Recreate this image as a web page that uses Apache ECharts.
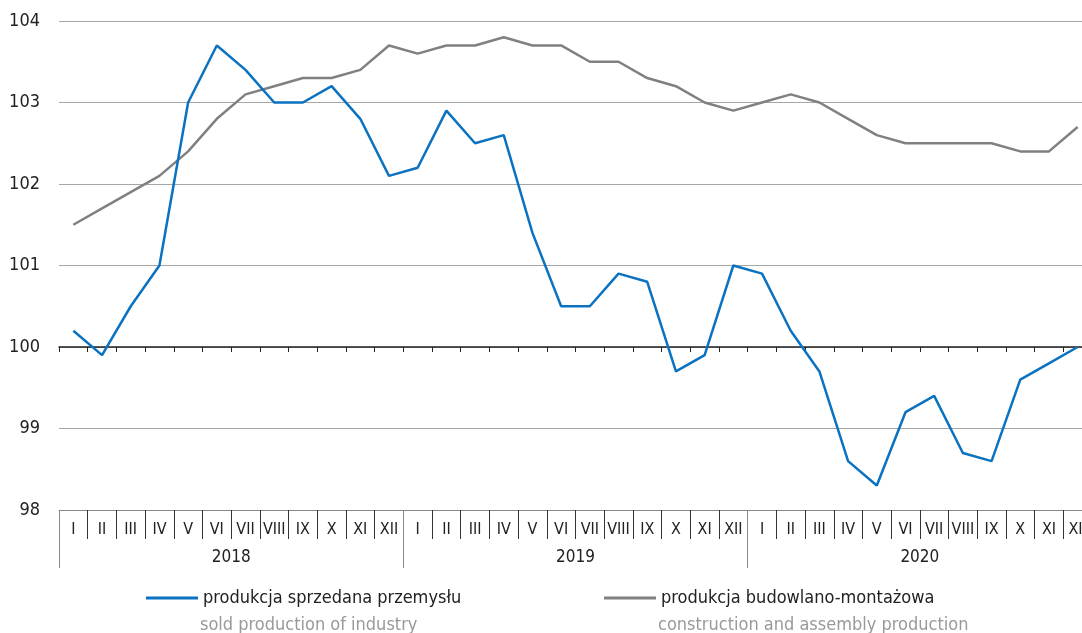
<!DOCTYPE html>
<html>
<head>
<meta charset="utf-8">
<script src="https://cdn.jsdelivr.net/npm/echarts@6/dist/echarts.min.js"></script>
<style>
  html, body { margin: 0; padding: 0; background: #fff; }
  #chart { width: 1082px; height: 633px; }
</style>
</head>
<body>
<div id="chart"></div>
<script>
var months = ['I', 'II', 'III', 'IV', 'V', 'VI', 'VII', 'VIII', 'IX', 'X', 'XI', 'XII'];
var years = ['2018', '2019', '2020'];
var categories = [].concat(months, months, months);

// produkcja sprzedana przemysłu
var industry = [
  100.2, 99.9, 100.5, 101.0, 103.0, 103.7, 103.4, 103.0, 103.0, 103.2, 102.8, 102.1,
  102.2, 102.9, 102.5, 102.6, 101.4, 100.5, 100.5, 100.9, 100.8, 99.7, 99.9, 101.0,
  100.9, 100.2, 99.7, 98.6, 98.3, 99.2, 99.4, 98.7, 98.6, 99.6, 99.8, 100.0
];
// produkcja budowlano-montażowa
var construction = [
  101.5, 101.7, 101.9, 102.1, 102.4, 102.8, 103.1, 103.2, 103.3, 103.3, 103.4, 103.7,
  103.6, 103.7, 103.7, 103.8, 103.7, 103.7, 103.5, 103.5, 103.3, 103.2, 103.0, 102.9,
  103.0, 103.1, 103.0, 102.8, 102.6, 102.5, 102.5, 102.5, 102.5, 102.4, 102.4, 102.7
];
var seriesNames = ['produkcja sprzedana przemysłu', 'produkcja budowlano-montażowa'];
var seriesSubs = ['sold production of industry', 'construction and assembly production'];

var font = '"Liberation Sans Narrow", "DejaVu Sans Condensed", "Noto Sans", sans-serif';

var chart = echarts.init(document.getElementById('chart'));
chart.setOption({
  animation: false,
  textStyle: { fontFamily: font },
  // the last month (XII 2020) runs past the right edge, as in the source
  grid: { left: 59, top: 21, width: 1033, bottom: 123, outerBoundsMode: 'none', containLabel: false },
  legend: [
    {
      data: [seriesNames[0]], left: 141, top: 584,
      icon: 'rect', itemWidth: 52, itemHeight: 3,
      textStyle: { fontSize: 18, color: '#222', fontFamily: font }
    },
    {
      data: [seriesNames[1]], left: 599, top: 584,
      icon: 'rect', itemWidth: 52, itemHeight: 3,
      textStyle: { fontSize: 18, color: '#222', fontFamily: font }
    }
  ],
  graphic: [
    { type: 'text', left: 200, top: 616, style: { text: seriesSubs[0], fill: '#999', fontSize: 18, fontFamily: font } },
    { type: 'text', left: 658, top: 616, style: { text: seriesSubs[1], fill: '#999', fontSize: 18, fontFamily: font } }
  ],
  xAxis: [
    {
      type: 'category', data: categories, boundaryGap: true, position: 'bottom',
      axisLine: { show: true, lineStyle: { color: '#888', width: 1 } },
      axisTick: { show: true, interval: 0, length: 29, lineStyle: { color: '#333' } },
      axisLabel: { interval: 0, margin: 12, fontSize: 16, color: '#222' },
      splitLine: { show: false }
    },
    {
      type: 'category', data: years, boundaryGap: true, position: 'bottom',
      axisLine: { show: false },
      axisTick: { show: true, interval: 0, length: 58, lineStyle: { color: '#888' } },
      axisLabel: { interval: 0, margin: 39, fontSize: 17, color: '#222' }
    },
    {
      type: 'category', data: categories, boundaryGap: true, position: 'bottom', offset: -163,
      axisLine: { show: true, lineStyle: { color: '#222', width: 1.5 } },
      axisTick: { show: true, interval: 0, length: 5, lineStyle: { color: '#222' } },
      axisLabel: { show: false }
    }
  ],
  yAxis: {
    type: 'value', min: 98, max: 104, interval: 1,
    axisLine: { show: false },
    axisTick: { show: false },
    axisLabel: { margin: 19, fontSize: 18, color: '#222' },
    splitLine: { show: true, lineStyle: { color: '#a6a6a6', width: 1.2 } }
  },
  series: [
    {
      name: seriesNames[0], type: 'line', data: industry,
      symbol: 'none', color: '#0a72c0',
      lineStyle: { color: '#0a72c0', width: 2.5 }, z: 3
    },
    {
      name: seriesNames[1], type: 'line', data: construction,
      symbol: 'none', color: '#808080',
      lineStyle: { color: '#808080', width: 2.5 }, z: 2
    }
  ]
});
</script>
</body>
</html>
